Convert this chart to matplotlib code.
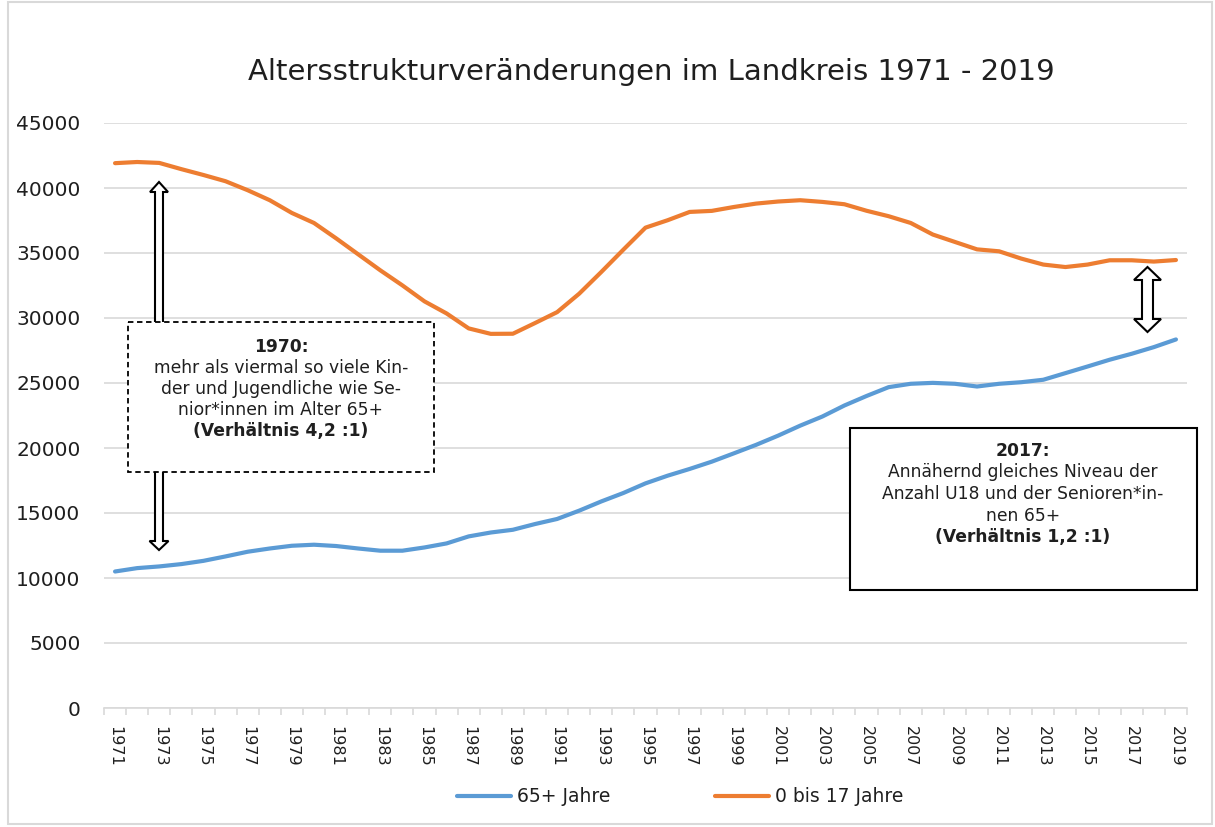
import matplotlib
matplotlib.use('Agg')
import matplotlib.pyplot as plt
from matplotlib.patches import Rectangle, Polygon

# Daten
jahre = list(range(1971, 2020))
senioren_65plus = [10500, 10760, 10890, 11070, 11320, 11660, 12020, 12270, 12480, 12560,
                   12460, 12270, 12100, 12100, 12350, 12660, 13200, 13500, 13710, 14150,
                   14540, 15180, 15890, 16540, 17280, 17870, 18390, 18950, 19590, 20240,
                   20950, 21720, 22420, 23270, 24000, 24680, 24940, 25010, 24940, 24730,
                   24940, 25060, 25250, 25760, 26270, 26790, 27250, 27760, 28350]
kinder_0_17 = [41910, 42000, 41930, 41450, 41000, 40520, 39830, 39060, 38080, 37310,
               36130, 34900, 33670, 32510, 31280, 30350, 29200, 28780, 28790, 29610,
               30450, 31870, 33540, 35260, 36950, 37520, 38160, 38240, 38540, 38800,
               38960, 39060, 38930, 38750, 38250, 37830, 37310, 36420, 35850, 35280,
               35130, 34570, 34110, 33920, 34110, 34440, 34440, 34340, 34460]
y_ticks = list(range(0, 45001, 5000))

titel = "Altersstrukturveränderungen im Landkreis 1971 - 2019"
box1_zeilen = ["1970:", "mehr als viermal so viele Kin-", "der und Jugendliche wie Se-",
               "nior*innen im Alter 65+", "(Verhältnis 4,2 :1)"]
box2_zeilen = ["2017:", "Annähernd gleiches Niveau der", "Anzahl U18 und der Senioren*in-",
               "nen 65+", "(Verhältnis 1,2 :1)"]

BLAU = '#5B9BD5'
ORANGE = '#ED7D31'
GRID = '#D9D9D9'
TEXT = '#1f1f1f'

W, H = 1215, 827
fig = plt.figure(figsize=(W / 100, H / 100), dpi=100)
plt.rcParams['font.family'] = ['DejaVu Sans']

ax = fig.add_axes([104 / W, 1 - 708 / H, (1187 - 104) / W, (708 - 123) / H])
x = list(range(len(jahre)))
ax.plot(x, senioren_65plus, color=BLAU, lw=3, label='65+ Jahre', solid_capstyle='round')
ax.plot(x, kinder_0_17, color=ORANGE, lw=3, label='0 bis 17 Jahre', solid_capstyle='round')

ax.set_xlim(-0.5, len(jahre) - 0.5)
ax.set_ylim(0, 45000)
ax.set_yticks(y_ticks)
ax.set_yticklabels([str(v) for v in y_ticks], fontsize=14.5, color=TEXT)
ax.tick_params(axis='y', length=0, pad=17)
ax.grid(axis='y', color=GRID, lw=1.2)
ax.set_axisbelow(True)

ax.set_xticks(x[::2])
ax.set_xticklabels([str(j) for j in jahre[::2]], rotation=-90, fontsize=11.5, color=TEXT)
ax.set_xticks([i - 0.5 for i in range(len(jahre) + 1)], minor=True)
ax.tick_params(axis='x', which='major', length=0, pad=13)
ax.tick_params(axis='x', which='minor', length=5, color=GRID, width=1.2)

for s in ['top', 'right', 'left']:
    ax.spines[s].set_visible(False)
ax.spines['bottom'].set_color(GRID)
ax.spines['bottom'].set_linewidth(1.2)

fig.legend(loc='center', bbox_to_anchor=(680 / W, 1 - 797 / H), ncol=2, frameon=False,
           fontsize=13.5, handlelength=2.9, columnspacing=5.6, handletextpad=0.3,
           labelcolor=TEXT)

fig.text(651 / W, 1 - 72 / H, titel, ha='center', va='center', fontsize=21, color=TEXT)

# Overlay in Pixelkoordinaten fuer Rahmen, Pfeile und Textboxen
ov = fig.add_axes([0, 0, 1, 1], facecolor='none')
ov.set_xlim(0, W)
ov.set_ylim(H, 0)
ov.axis('off')

ov.add_patch(Rectangle((8, 2), W - 11, H - 5, fill=False, ec=GRID, lw=1.5))


def pfeil(ax, cx, y_ende, y_spitze, schaft, kopf, kopf_len):
    r = 1 if y_spitze > y_ende else -1
    yb = y_spitze - r * kopf_len
    pts = [(cx - schaft / 2, y_ende), (cx - schaft / 2, yb), (cx - kopf / 2, yb),
           (cx, y_spitze), (cx + kopf / 2, yb), (cx + schaft / 2, yb), (cx + schaft / 2, y_ende)]
    ax.add_patch(Polygon(pts, closed=True, fc='white', ec='black', lw=1.5, zorder=2))


def doppelpfeil(ax, cx, y_oben, y_unten, schaft, kopf, kopf_len):
    a, b = y_oben + kopf_len, y_unten - kopf_len
    pts = [(cx, y_oben), (cx + kopf / 2, a), (cx + schaft / 2, a), (cx + schaft / 2, b),
           (cx + kopf / 2, b), (cx, y_unten), (cx - kopf / 2, b), (cx - schaft / 2, b),
           (cx - schaft / 2, a), (cx - kopf / 2, a)]
    ax.add_patch(Polygon(pts, closed=True, fc='white', ec='black', lw=1.5, zorder=2))


pfeil(ov, 159, 330, 182, 8, 18, 10)
pfeil(ov, 159, 465, 550, 8, 19, 9)
doppelpfeil(ov, 1147.5, 267, 332, 11, 27, 13)

ov.add_patch(Rectangle((128, 322), 306, 150, fc='white', ec='black', lw=1.3,
                       ls=(0, (3, 2)), zorder=3))
ov.add_patch(Rectangle((850, 428), 347, 162, fc='white', ec='black', lw=1.5, zorder=3))

for i, (zeile, y) in enumerate(zip(box1_zeilen, [347, 368, 389, 410, 431])):
    fw = 'bold' if i in (0, 4) else 'normal'
    ov.text(281, y, zeile, ha='center', va='center', fontsize=12.3, fontweight=fw,
            color=TEXT, zorder=4)
for i, (zeile, y) in enumerate(zip(box2_zeilen, [451, 472, 494, 516, 537])):
    fw = 'bold' if i in (0, 4) else 'normal'
    ov.text(1023, y, zeile, ha='center', va='center', fontsize=12.3, fontweight=fw,
            color=TEXT, zorder=4)

fig.savefig('out.png', dpi=100)
